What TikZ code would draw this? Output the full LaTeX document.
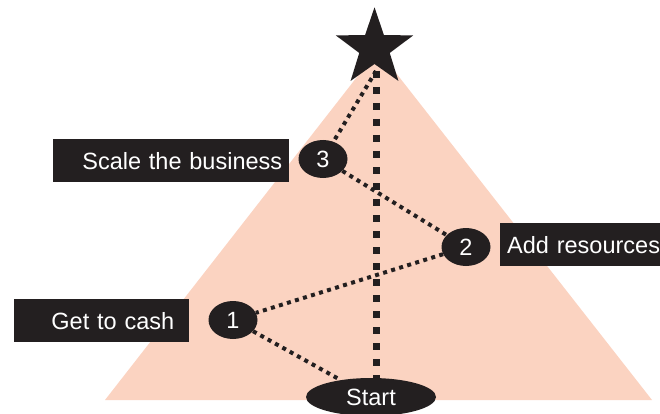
\documentclass[tikz,border=0pt]{standalone}
\usepackage{fontspec}
\setmainfont{Liberation Sans}
\usetikzlibrary{shapes.geometric,backgrounds}
\definecolor{ink}{RGB}{35,31,32}
\definecolor{peach}{RGB}{251,211,193}
\begin{document}
\begin{tikzpicture}[x=1pt,y=-1pt,
  every node/.style={font=\fontsize{23.5}{28}\selectfont},
  stepnum/.style={ellipse, fill=ink, text=white, minimum width=49pt, minimum height=38pt, inner sep=0pt},
  tag/.style={fill=ink, text=white, minimum height=43pt, inner ysep=0pt, anchor=north west},
  trail/.style={ink, line width=4pt, dash pattern=on 4pt off 4.4pt},
  spine/.style={ink, line width=7pt, dash pattern=on 7pt off 9pt}]
\useasboundingbox (0,0) rectangle (660,414);

% goal star and the top of the path
\coordinate (apex) at (376,71);
\node[star, star points=5, star point ratio=2.54, minimum size=81.4pt, inner sep=0pt, fill=ink] (goal) at (374.5,48) {};

% milestones
\node[stepnum] (n3) at (323,159) {3};
\node[stepnum] (n2) at (466,247) {2};
\node[stepnum] (n1) at (233,320) {1};
\node[ellipse, fill=ink, text=white, minimum width=130pt, minimum height=38pt, inner sep=0pt] (start) at (371,397) {Start};

% captions
\node[tag, text width=222pt, inner xsep=7pt, align=right] (scale) at (53,139) {Scale the business};
\node[tag, text width=160pt, inner xsep=7pt, align=left] (add) at (500,223) {Add resources};
\node[tag, text width=145pt, inner xsep=15pt, align=right] (cash) at (14,299) {Get to cash};

\begin{scope}[on background layer]
  \fill[peach] (105,400) -- (378,50) -- (652,400) -- cycle;
  \draw[spine] (apex) -- (apex |- start.center);
  \draw[trail] (apex) -- (n3);
  \draw[trail] (n3) -- (n2);
  \draw[trail] (n2) -- (n1);
  \draw[trail] (n1) -- (start);
\end{scope}
\end{tikzpicture}
\end{document}
